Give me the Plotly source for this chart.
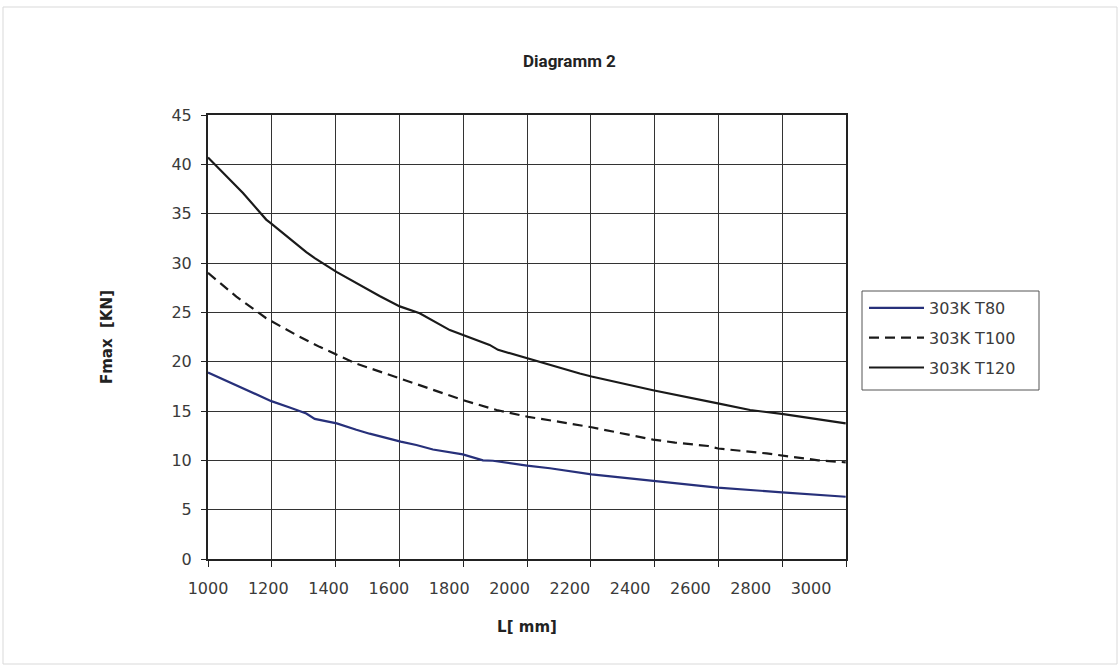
import plotly.graph_objects as go

# ---------------- data ----------------
x_t80 = [1000, 1082, 1210, 1271, 1326, 1354, 1427, 1492, 1536, 1639, 1691, 1746,
         1845, 1912, 1945, 2058, 2134, 2272, 2478, 2690, 2904, 3115]
y_t80 = [18.9, 17.8, 16.0, 15.35, 14.75, 14.2, 13.75, 13.1, 12.7, 11.9, 11.55, 11.1,
         10.6, 10.0, 9.96, 9.46, 9.2, 8.58, 7.9, 7.23, 6.76, 6.31]

x_t100 = [1000, 1094, 1193, 1293, 1370, 1426, 1492, 1613, 1702, 1802, 1846, 1957,
          2062, 2166, 2272, 2476, 2549, 2659, 2692, 2853, 2903, 3024, 3115]
y_t100 = [29.0, 26.6, 24.4, 22.7, 21.5, 20.7, 19.8, 18.55, 17.6, 16.6, 16.1, 15.1,
          14.4, 13.9, 13.35, 12.1, 11.8, 11.45, 11.2, 10.7, 10.5, 10.0, 9.8]

x_t120 = [1000, 1082, 1116, 1193, 1210, 1326, 1354, 1426, 1525, 1569, 1636, 1702,
          1802, 1846, 1934, 1962, 2062, 2233, 2272, 2476, 2687, 2798, 2903, 3115]
y_t120 = [40.7, 38.2, 37.1, 34.4, 34.0, 31.1, 30.5, 29.1, 27.4, 26.65, 25.6, 24.9,
          23.2, 22.7, 21.7, 21.2, 20.3, 18.8, 18.5, 17.1, 15.8, 15.1, 14.7, 13.75]

series_names = ["303K T80", "303K T100", "303K T120"]

x_tick_vals = [1000, 1200, 1400, 1600, 1800, 2000, 2200, 2400, 2600, 2800, 3000]
x_tick_text = ["1000", "1200", "1400", "1600", "1800", "2000", "2200", "2400",
               "2600", "2800", "3000"]
x_min, x_max = 1000, 3116
n_grid = 10
y_tick_vals = [0, 5, 10, 15, 20, 25, 30, 35, 40, 45]

# ---------------- figure ----------------
TICKFONT = "'DejaVu Sans', sans-serif"
TITLEFONT = "Roboto, 'Open Sans', sans-serif"
TXT = "#3a3a3a"
GRID = "#333333"

grid_step = (x_max - x_min) / n_grid
x_grid_vals = [x_min + i * grid_step for i in range(n_grid + 1)]

fig = go.Figure()
fig.add_trace(go.Scatter(x=x_t80, y=y_t80, mode="lines", name=series_names[0],
                         legendgroup="a",
                         line=dict(color="#27307A", width=2.2)))
fig.add_trace(go.Scatter(x=x_t100, y=y_t100, mode="lines", name=series_names[1],
                         legendgroup="b",
                         line=dict(color="#1a1a1a", width=2.2, dash="10px,6px")))
fig.add_trace(go.Scatter(x=x_t120, y=y_t120, mode="lines", name=series_names[2],
                         legendgroup="c",
                         line=dict(color="#1a1a1a", width=2.2)))

px2x = lambda p: (p - 208) / 638
py2y = lambda p: (559 - p) / 444

fig.update_layout(
    width=1120, height=668,
    margin=dict(l=208, r=274, t=115, b=109),
    paper_bgcolor="white", plot_bgcolor="white",
    font=dict(family=TICKFONT, size=16, color=TXT),
    showlegend=True,
    legend=dict(
        x=px2x(864), y=py2y(291), xanchor="left", yanchor="top",
        borderwidth=0, bgcolor="rgba(0,0,0,0)",
        font=dict(family=TICKFONT, size=16, color=TXT),
        traceorder="grouped", tracegroupgap=6,
        itemwidth=55,
    ),
    annotations=[
        dict(text="<b>Diagramm 2</b>", x=px2x(569), y=py2y(61),
             xref="paper", yref="paper", showarrow=False,
             font=dict(family=TITLEFONT, size=17, color="#222222"),
             xanchor="center", yanchor="middle"),
    ],
    shapes=[
        dict(type="rect", xref="paper", yref="paper",
             x0=px2x(3), x1=px2x(1117), y0=py2y(664), y1=py2y(7),
             line=dict(color="#d9d9d9", width=1), fillcolor="rgba(0,0,0,0)",
             layer="below"),
        dict(type="rect", xref="paper", yref="paper",
             x0=px2x(862), x1=px2x(1039), y0=py2y(390), y1=py2y(291),
             line=dict(color="#555555", width=1), fillcolor="rgba(0,0,0,0)",
             layer="above"),
    ],
)

fig.update_xaxes(
    range=[x_min, x_max],
    tickmode="array", tickvals=x_tick_vals, ticktext=x_tick_text,
    ticks="", showgrid=False, zeroline=False,
    showline=True, linecolor="#222222", linewidth=2, mirror=True,
    tickfont=dict(family=TICKFONT, size=16, color=TXT),
    ticklabelstandoff=14,
    minor=dict(tickmode="array", tickvals=x_grid_vals, ticks="outside",
               ticklen=6, tickcolor="#222222", tickwidth=1,
               showgrid=True, gridcolor=GRID, gridwidth=1),
    title=dict(text="<b>L[ mm]</b>", font=dict(family=TICKFONT, size=15, color="#222222"),
               standoff=24),
)
fig.update_yaxes(
    range=[0, 45],
    tickmode="array", tickvals=y_tick_vals,
    ticks="outside", ticklen=5, tickcolor="#222222", tickwidth=1,
    showgrid=True, gridcolor=GRID, gridwidth=1, zeroline=False,
    showline=True, linecolor="#222222", linewidth=2, mirror=True,
    tickfont=dict(family=TICKFONT, size=16, color=TXT),
    ticklabelstandoff=6,
    title=dict(text="<b>Fmax  [KN]</b>", font=dict(family=TICKFONT, size=15, color="#222222"),
               standoff=55),
)

fig.write_html("out.html", config={"displayModeBar": False},
               post_script="document.body.style.margin='0';document.body.style.overflow='hidden';")
